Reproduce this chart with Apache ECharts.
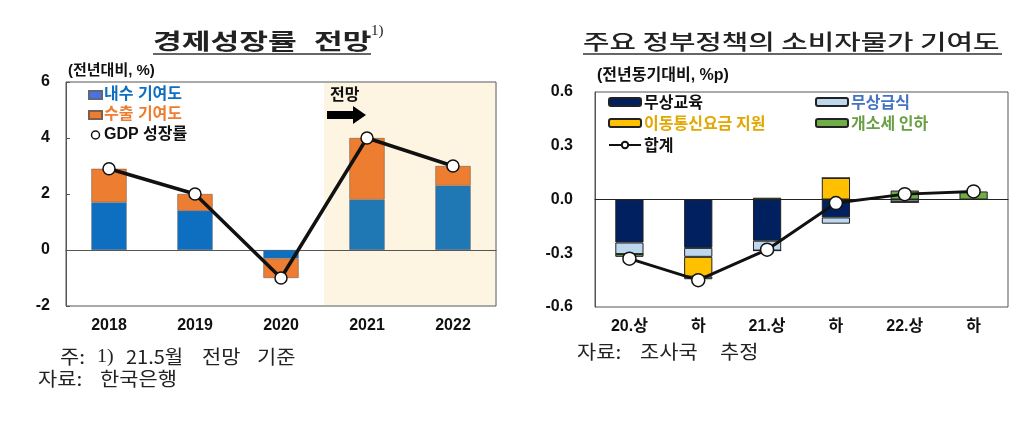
<!DOCTYPE html>
<html><head><meta charset="utf-8">
<script src="https://cdn.jsdelivr.net/npm/echarts@6/dist/echarts.min.js"></script>
<style>html,body{margin:0;padding:0;background:#fff}#c{width:1024px;height:422px}</style>
</head><body><div id="c"></div>
<script>
// ---- Left chart data ----
const leftCats = ['2018', '2019', '2020', '2021', '2022'];
const domestic = [1.7, 1.4, -0.3, 1.8, 2.3];
const exportsC = [1.2, 0.6, -0.7, 2.2, 0.7];
const gdpGrowth = [2.9, 2.0, -1.0, 4.0, 3.0];
const leftYTicks = [-2, 0, 2, 4, 6];
// ---- Right chart data ----
const rightCats = ['20.상', '하', '21.상', '하', '22.상', '하'];
const freeEdu = [-0.24, -0.27, -0.23, -0.10, 0, 0];
const freeMeal = [-0.065, -0.05, -0.055, -0.035, -0.015, 0];
const telecom = [0, -0.11, 0, 0.12, 0, 0];
const carTax = [-0.015, -0.015, 0.01, 0, 0.05, 0.045];
const totalCPI = [-0.33, -0.45, -0.28, -0.02, 0.03, 0.045];
const rightYTicks = [-0.6, -0.3, 0, 0.3, 0.6];

const FONT = "'Liberation Sans','Noto Sans CJK KR',sans-serif";
const KFONT = "'Noto Sans CJK KR',sans-serif";
const chart = echarts.init(document.getElementById('c'), null, {renderer: 'canvas'});

const axisLabelStyle = {color: '#111', fontSize: 16, fontWeight: 'bold', fontFamily: FONT};
const LG = {left: 66, top: 82, width: 430, height: 224};
const RG = {left: 595, top: 92, width: 413, height: 215};

function legendBox(left, top, name, color) {
  return {
    left: left, top: top, padding: 0, itemWidth: 32, itemHeight: 8, itemGap: 0,
    data: [name],
    textStyle: {color: color, fontSize: 16, fontWeight: 'bold', fontFamily: KFONT, padding: [0, 0, 0, -2]}
  };
}

const option = {
  animation: false,
  grid: [
    Object.assign({show: true, borderColor: '#555', borderWidth: 1, backgroundColor: 'transparent'}, LG),
    Object.assign({show: true, borderColor: '#555', borderWidth: 1, backgroundColor: 'transparent'}, RG)
  ],
  xAxis: [
    {type: 'category', gridIndex: 0, data: leftCats,
     axisLine: {onZero: true, lineStyle: {color: '#555', width: 1}},
     axisTick: {inside: true, length: 4, lineStyle: {color: '#555'}},
     axisLabel: Object.assign({margin: 12}, axisLabelStyle)},
    {type: 'category', gridIndex: 1, data: rightCats,
     axisLine: {onZero: true, lineStyle: {color: '#222', width: 1}},
     axisTick: {inside: true, length: 4, lineStyle: {color: '#555'}},
     axisLabel: Object.assign({margin: 12}, axisLabelStyle)}
  ],
  yAxis: [
    {type: 'value', gridIndex: 0, min: leftYTicks[0], max: leftYTicks[leftYTicks.length - 1], interval: 2,
     splitLine: {show: false},
     axisLine: {show: true, lineStyle: {color: '#555'}},
     axisTick: {show: true, inside: true, length: 4, lineStyle: {color: '#555'}},
     axisLabel: Object.assign({margin: 16}, axisLabelStyle)},
    {type: 'value', gridIndex: 1, min: rightYTicks[0], max: rightYTicks[rightYTicks.length - 1], interval: 0.3,
     splitLine: {show: false},
     axisLine: {show: true, lineStyle: {color: '#555'}},
     axisTick: {show: false},
     axisLabel: Object.assign({margin: 22, formatter: v => v.toFixed(1)}, axisLabelStyle)}
  ],
  legend: [
    {left: 88, top: 87, orient: 'vertical', padding: 0, itemGap: 4, itemWidth: 13, itemHeight: 8,
     data: [
       {name: '내수 기여도', icon: 'rect', textStyle: {color: '#0E6FC0'}},
       {name: '수출 기여도', icon: 'rect', textStyle: {color: '#ED7D31'}},
       {name: 'GDP 성장률', icon: 'circle', itemStyle: {color: '#fff', borderColor: '#111', borderWidth: 1.5}, textStyle: {color: '#111'}}
     ],
     textStyle: {fontSize: 16, fontWeight: 'bold', fontFamily: FONT, padding: [0, 0, 0, -3]}},
    legendBox(608, 94, '무상교육', '#111'),
    legendBox(815, 94, '무상급식', '#4472C4'),
    legendBox(608, 115, '이동통신요금 지원', '#E0A800'),
    legendBox(815, 115, '개소세 인하', '#6A9F45'),
    legendBox(608, 137, '합계', '#111')
  ],
  series: [
    {name: '내수 기여도', type: 'bar', xAxisIndex: 0, yAxisIndex: 0, stack: 'L', barWidth: '41%',
     data: domestic, itemStyle: {color: p => (p.dataIndex >= 3 ? '#1F77B4' : '#0E6FC0'), borderColor: '#5a6a7a', borderWidth: 0.6}, z: 3},
    {name: '수출 기여도', type: 'bar', xAxisIndex: 0, yAxisIndex: 0, stack: 'L', barWidth: '41%',
     data: exportsC, itemStyle: {color: '#ED7D31', borderColor: '#7a6050', borderWidth: 0.6}, z: 3},
    {name: 'GDP 성장률', type: 'line', xAxisIndex: 0, yAxisIndex: 0, data: gdpGrowth,
     lineStyle: {color: '#111', width: 3.5}, symbol: 'circle', symbolSize: 12,
     itemStyle: {color: '#fff', borderColor: '#111', borderWidth: 1.5}, z: 5},

    {name: '무상교육', type: 'bar', xAxisIndex: 1, yAxisIndex: 1, stack: 'R', barWidth: '41%',
     data: freeEdu, itemStyle: {color: '#002060', borderColor: '#222', borderWidth: 1}, z: 3},
    {name: '무상급식', type: 'bar', xAxisIndex: 1, yAxisIndex: 1, stack: 'R', barWidth: '41%',
     data: freeMeal, itemStyle: {color: '#BDD7EE', borderColor: '#222', borderWidth: 1}, z: 3},
    {name: '이동통신요금 지원', type: 'bar', xAxisIndex: 1, yAxisIndex: 1, stack: 'R', barWidth: '41%',
     data: telecom, itemStyle: {color: '#FFC000', borderColor: '#222', borderWidth: 1}, z: 3},
    {name: '개소세 인하', type: 'bar', xAxisIndex: 1, yAxisIndex: 1, stack: 'R', barWidth: '41%',
     data: carTax, itemStyle: {color: '#70AD47', borderColor: '#222', borderWidth: 1}, z: 3},
    {name: '합계', type: 'line', xAxisIndex: 1, yAxisIndex: 1, data: totalCPI,
     lineStyle: {color: '#111', width: 3}, symbol: 'circle', symbolSize: 13,
     itemStyle: {color: '#fff', borderColor: '#111', borderWidth: 1.5}, z: 5}
  ]
};
chart.setOption(option);

// forecast shading based on the category axis scale
const c3 = chart.convertToPixel({xAxisIndex: 0}, 3);
const c4 = chart.convertToPixel({xAxisIndex: 0}, 4);
const band = c4 - c3;
const shadeLeft = c3 - band / 2;
const shadeRight = LG.left + LG.width;

// text helper: left-aligned, vertically centred at y, optional horizontal stretch
function txt(x, y, text, size, weight, sx, family, color) {
  return {type: 'text', x: x, y: y, scaleX: sx || 1, silent: true,
    style: {text: text, x: 0, y: 0, fontSize: size, fontWeight: weight || 'normal',
      fontFamily: family || KFONT, fill: color || '#222', textAlign: 'left', textVerticalAlign: 'middle'}};
}

chart.setOption({
  graphic: [
    {type: 'rect', z: -10, silent: true,
     shape: {x: shadeLeft, y: LG.top + 1, width: shadeRight - shadeLeft - 1, height: LG.height - 2},
     style: {fill: '#FDF5E2'}},
    // left title
    txt(153, 41, '경제성장률', 22, 'bold', 1.42),
    txt(314, 41, '전망', 22, 'bold', 1.42),
    txt(371, 31, '1)', 15, 'normal', 1, "'Liberation Serif',serif"),
    {type: 'line', shape: {x1: 153, y1: 54, x2: 371, y2: 54}, style: {stroke: '#333', lineWidth: 1.5}},
    // right title
    txt(583, 41, '주요 정부정책의 소비자물가 기여도', 21, 500, 1.37),
    {type: 'line', shape: {x1: 583, y1: 54, x2: 1002, y2: 54}, style: {stroke: '#333', lineWidth: 1.5}},
    // units
    txt(68, 71, '(전년대비, %)', 15, 'bold', 1, FONT, '#111'),
    txt(597, 76, '(전년동기대비, %p)', 16, 'bold', 1, FONT, '#111'),
    // forecast label and arrow
    txt(330, 94, '전망', 16, 'bold', 1, KFONT, '#111'),
    {type: 'polygon', shape: {points: [[327, 111], [353, 111], [353, 106], [366, 115], [353, 124], [353, 119], [327, 119]]},
     style: {fill: '#000'}},
    // notes (left)
    txt(60, 357, '주:', 19, 'normal', 1.1),
    txt(97, 357, '1)', 19, 'normal', 1.05, "'Liberation Serif',serif"),
    txt(126, 357, '21.5월', 19, 'normal', 1.05),
    txt(202, 357, '전망', 19, 'normal', 1.1),
    txt(257, 357, '기준', 19, 'normal', 1.1),
    txt(38, 379, '자료:', 19, 'normal', 1.1),
    txt(100, 379, '한국은행', 19, 'normal', 1.1),
    // notes (right)
    txt(577, 352, '자료:', 19, 'normal', 1.1),
    txt(640, 352, '조사국', 19, 'normal', 1.1),
    txt(720, 352, '추정', 19, 'normal', 1.1)
  ]
});
</script>
</body></html>
